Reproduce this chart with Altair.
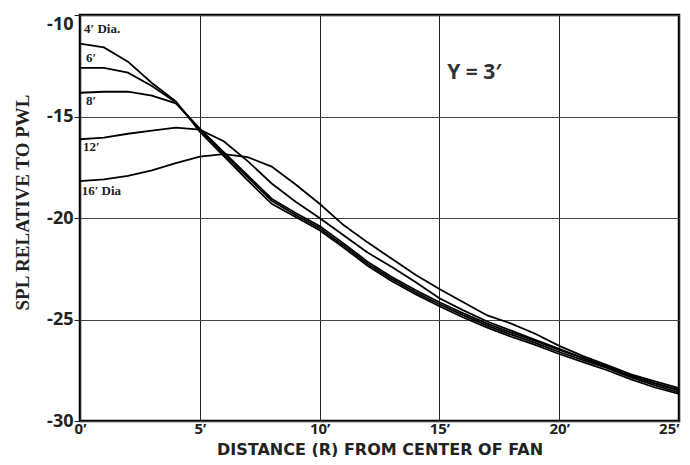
import altair as alt
import pandas as pd

# Distance from fan centre (ft)
x_ft = list(range(26))

# SPL relative to PWL for each fan diameter
spl_4ft = [-11.41, -11.6, -12.3, -13.35, -14.25, -15.75, -16.95, -18.15, -19.3, -19.95,
           -20.6, -21.45, -22.35, -23.1, -23.75, -24.35, -24.9, -25.4, -25.85, -26.25,
           -26.7, -27.1, -27.5, -27.95, -28.35, -28.67]
spl_6ft = [-12.6, -12.6, -12.84, -13.5, -14.3, -15.65, -16.85, -18.0, -19.15, -19.85,
           -20.5, -21.35, -22.25, -23.0, -23.65, -24.25, -24.8, -25.3, -25.75, -26.15,
           -26.6, -27.0, -27.4, -27.85, -28.25, -28.6]
spl_8ft = [-13.83, -13.78, -13.77, -13.97, -14.35, -15.6, -16.75, -17.9, -19.05, -19.75,
           -20.4, -21.25, -22.15, -22.9, -23.55, -24.15, -24.7, -25.2, -25.65, -26.05,
           -26.5, -26.9, -27.3, -27.75, -28.15, -28.5]
spl_12ft = [-16.12, -16.04, -15.85, -15.7, -15.55, -15.65, -16.22, -17.2, -18.3, -19.2,
            -20.0, -20.85, -21.7, -22.4, -23.15, -23.95, -24.55, -25.1, -25.55, -26.0,
            -26.45, -26.9, -27.35, -27.8, -28.15, -28.47]
spl_16ft = [-18.18, -18.1, -17.93, -17.65, -17.3, -16.98, -16.85, -17.0, -17.47, -18.35,
            -19.3, -20.35, -21.2, -22.0, -22.8, -23.5, -24.15, -24.8, -25.2, -25.7,
            -26.3, -26.8, -27.25, -27.7, -28.05, -28.38]

series_names = ["4ft", "6ft", "8ft", "12ft", "16ft"]
series_vals = [spl_4ft, spl_6ft, spl_8ft, spl_12ft, spl_16ft]

# Curve labels
label_text = ["4\u2032 Dia.", "6\u2032", "8\u2032", "12\u2032", "16\u2032 Dia"]
label_x = [0.17, 0.25, 0.25, 0.12, 0.07]
label_y = [-10.7, -12.12, -14.24, -16.5, -18.67]

x_ticks = [0, 5, 10, 15, 20, 25]
y_ticks = [-30, -25, -20, -15, -10]

rows = []
for name, vals in zip(series_names, series_vals):
    for x, v in zip(x_ft, vals):
        rows.append({"series": name, "x": x, "spl": v})
df = pd.DataFrame(rows)

labels_df = pd.DataFrame({"text": label_text, "x": label_x, "spl": label_y})
note_df = pd.DataFrame({"text": ["Y = 3\u2032"], "x": [16.46], "spl": [-12.86]})

x_enc = alt.X(
    "x:Q",
    scale=alt.Scale(domain=[0, 25], nice=False, zero=False),
    axis=alt.Axis(
        values=x_ticks,
        labelExpr="datum.value + '\u2019'",
        title="DISTANCE (R) FROM CENTER OF FAN",
        titleFont="DejaVu Sans",
        titleFontWeight="bold",
        titleFontSize=16,
        titleColor="#222",
        titleY=33,
        titleBaseline="alphabetic",
        labelFont="Open Sans",
        labelFontWeight="bold",
        labelFontSize=15,
        labelColor="#222",
        labelPadding=0,
        labelAlign={"condition": {"test": "datum.value == 25", "value": "right"}, "value": "center"},
        ticks=False,
        domain=False,
        grid=True,
        gridColor="#222",
        gridWidth=1,
        labelFlush=False,
    ),
)
y_enc = alt.Y(
    "spl:Q",
    scale=alt.Scale(domain=[-30, -10], nice=False, zero=False),
    axis=alt.Axis(
        values=y_ticks,
        labelExpr="'-' + abs(datum.value)",
        title="SPL RELATIVE TO PWL",
        titleFont="Liberation Serif",
        titleFontWeight="bold",
        titleFontSize=19,
        titleColor="#222",
        titleX=-58,
        titleY=187,
        titleAlign="center",
        titleBaseline="middle",
        titleAngle=270,
        labelFont="Open Sans",
        labelFontWeight="bold",
        labelFontSize=18,
        labelColor="#222",
        labelPadding=1,
        labelBaseline={"condition": {"test": "datum.value == -10", "value": "top"}, "value": "middle"},
        labelFlush=False,
        tickSize=6,
        tickColor="#222",
        domain=False,
        grid=True,
        gridColor="#444",
        gridWidth=1,
    ),
)

lines = alt.Chart(df).mark_line(color="black", strokeWidth=1.8).encode(
    x=x_enc, y=y_enc, detail="series:N"
)

labels = alt.Chart(labels_df).mark_text(
    align="left", baseline="middle", font="Liberation Serif", fontWeight="bold",
    fontSize=13, color="#222"
).encode(x="x:Q", y="spl:Q", text="text:N")

note = alt.Chart(note_df).mark_text(
    align="center", baseline="middle", font="Open Sans", fontWeight="bold",
    fontSize=21, color="#333"
).encode(x="x:Q", y="spl:Q", text="text:N")

chart = (
    alt.layer(lines, labels, note)
    .properties(
        width=599,
        height=406,
        autosize=alt.AutoSizeParams(type="none"),
        padding={"left": 72, "top": 7, "right": 3, "bottom": 36},
        background="white",
    )
    .configure_view(stroke="black", strokeWidth=2.5)
)

chart.save("out.html", embed_options={"renderer": "svg", "actions": False})
